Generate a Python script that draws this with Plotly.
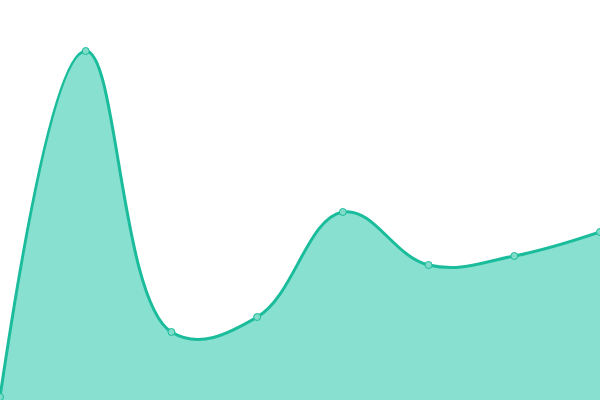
import plotly.graph_objects as go

categories = [0, 1, 2, 3, 4, 5, 6, 7]
values = [3, 349, 68, 83, 188, 135, 144, 168]

fig = go.Figure()
fig.add_trace(go.Scatter(
    x=categories, y=values, mode="lines+markers",
    line=dict(shape="spline", smoothing=1.15, color="#1abc9c", width=3),
    fill="tozeroy", fillcolor="#88e0d0",
    marker=dict(size=7, color="#80dcc8", line=dict(color="#1abc9c", width=1)),
    cliponaxis=False, hoverinfo="skip"
))
fig.update_layout(
    width=600, height=400, margin=dict(l=0, r=0, t=0, b=0, pad=0, autoexpand=False),
    paper_bgcolor="white", plot_bgcolor="white", showlegend=False,
    xaxis=dict(range=[0, 7], visible=False, fixedrange=True),
    yaxis=dict(range=[0, 400], visible=False, fixedrange=True),
)
fig.write_html(
    "out.html",
    config={"displayModeBar": False, "staticPlot": True},
    post_script="document.body.style.margin='0';document.body.style.overflow='hidden';",
)
